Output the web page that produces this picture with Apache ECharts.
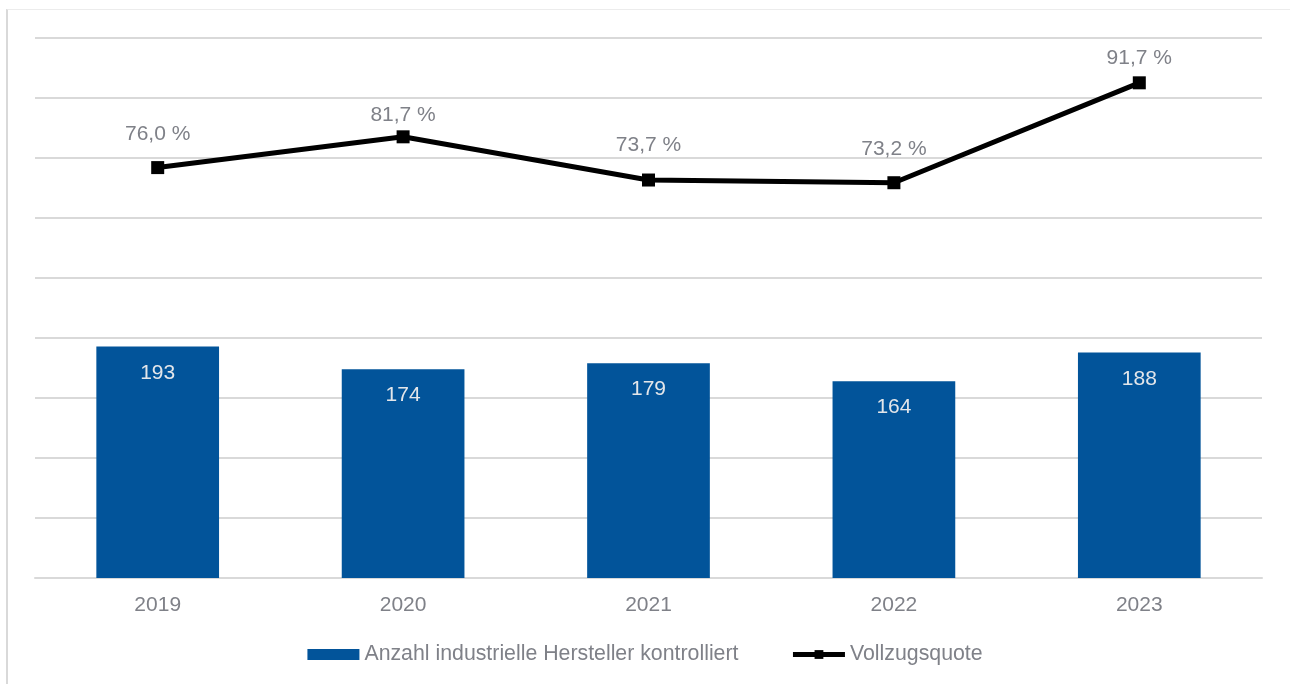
<!DOCTYPE html>
<html><head><meta charset="utf-8">
<script src="https://cdn.jsdelivr.net/npm/echarts@6/dist/echarts.min.js"></script>
<style>
html,body{margin:0;padding:0;background:#fff;}
#frame{position:absolute;left:6px;top:9px;width:1300px;height:700px;border-left:2px solid #d9d9d9;border-top:1px solid #ececec;}
#c{position:absolute;left:0;top:0;width:1290px;height:684px;}
</style></head>
<body>
<div id="frame"></div>
<div id="c"></div>
<script>
const years = ['2019','2020','2021','2022','2023'];
const hersteller = [193, 174, 179, 164, 188];
const quote = [76.0, 81.7, 73.7, 73.2, 91.7];
const barName = 'Anzahl industrielle Hersteller kontrolliert';
const lineName = 'Vollzugsquote';
// label gaps above each line point (as placed in the reference)
const quoteLabelGap = [16, 5, 18, 17, 8];

const txt = '#7f8188';
const font = '"Liberation Sans", Arial, sans-serif';
const chart = echarts.init(document.getElementById('c'), null, {renderer:'canvas'});
chart.setOption({
  backgroundColor: 'transparent',
  animation: false,
  textStyle: {fontFamily: font},
  grid: {left: 35, right: 28, top: 38, bottom: 106, containLabel: false},
  legend: {
    bottom: 14, left: 'center', itemGap: 52, itemWidth: 52, itemHeight: 11,
    textStyle: {color: txt, fontSize: 21.3, fontFamily: font},
    data: [{name: barName, icon: 'rect'},
           {name: lineName, lineStyle: {width: 5, color: '#000'}}]
  },
  xAxis: {
    type: 'category', data: years,
    axisLine: {show: true, lineStyle: {color: '#d9d9d9', width: 2}},
    axisTick: {show: false},
    axisLabel: {color: txt, fontSize: 21, margin: 17, fontFamily: font}
  },
  yAxis: [
    {type: 'value', min: 0, max: 450, interval: 50, axisLabel: {show: false},
     axisLine: {show: false}, axisTick: {show: false},
     splitLine: {lineStyle: {color: '#d9d9d9', width: 2}}},
    {type: 'value', min: 0, max: 100, interval: 10, axisLabel: {show: false},
     axisLine: {show: false}, axisTick: {show: false}, splitLine: {show: false}}
  ],
  series: [
    {name: barName, type: 'bar', data: hersteller, barWidth: '50%', yAxisIndex: 0,
     itemStyle: {color: '#02549a'},
     label: {show: true, position: 'insideTop', distance: 16, color: '#e3e6ea', fontSize: 21, fontFamily: font}},
    {name: lineName, type: 'line', yAxisIndex: 1,
     data: quote.map((v, i) => ({value: v, label: {distance: quoteLabelGap[i]}})),
     lineStyle: {color: '#000', width: 5}, itemStyle: {color: '#000'},
     symbol: 'rect', symbolSize: 13,
     label: {show: true, position: 'top', color: txt, fontSize: 21, fontFamily: font,
       formatter: p => p.value.toFixed(1).replace('.', ',') + ' %'}}
  ]
});
</script>
</body></html>
